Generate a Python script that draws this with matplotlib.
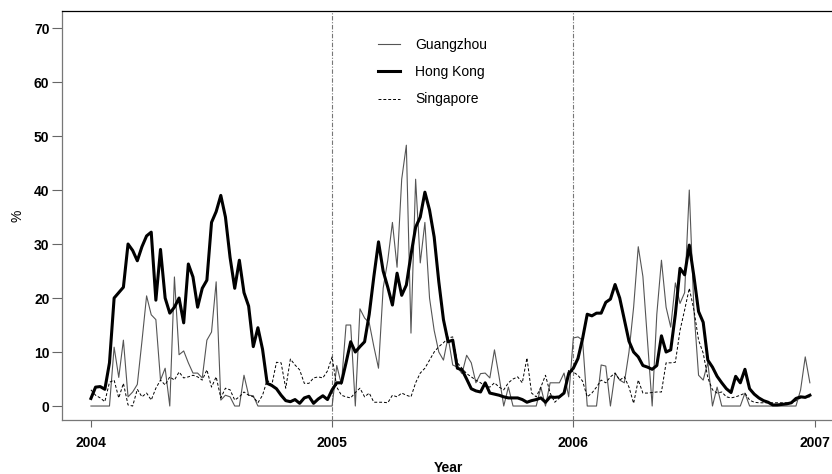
import numpy as np
import matplotlib
matplotlib.use("Agg")
import matplotlib.pyplot as plt

plt.rcParams['font.family'] = ['Liberation Sans', 'DejaVu Sans']

# -----------------------------
# Weekly values (%), 2004 week 0 .. 2006 week 51
# -----------------------------
guangzhou = [
    # 2004
    0, 0, 0, 0, 0, 10.9, 5.3, 12.2, 1.7, 2.6, 4.0, 12.0, 20.4, 16.9, 16.0, 4.8,
    7.0, 0, 23.9, 9.5, 10.2, 8.0, 6.1, 6.1, 5.2, 12.2, 13.7, 23.0, 1.1, 2.0,
    1.7, 0, 0, 5.7, 2.0, 1.9, 0, 0, 0, 0, 0, 0, 0, 0, 0, 0, 0, 0, 0, 0, 0, 0,
    # 2005
    0, 7.5, 4.0, 15.0, 15.0, 0, 18.0, 16.3, 15.4, 11.0, 7.0, 21.8, 27.0, 34.0,
    25.7, 42.0, 48.3, 13.5, 42.0, 26.5, 34.0, 20.0, 14.0, 10.0, 8.5, 12.8, 7.6,
    7.2, 6.0, 9.4, 8.0, 4.3, 6.0, 6.1, 5.2, 10.4, 5.4, 0, 3.5, 0, 0, 0, 0, 0,
    0, 3.5, 0, 4.3, 4.3, 4.3, 6.1, 1.7,
    # 2006
    12.6, 12.8, 12.2, 0, 0, 0, 7.6, 7.4, 0, 6.1, 4.8, 4.3, 10.0, 18.3, 29.5,
    24.0, 12.0, 0, 17.0, 27.0, 18.3, 14.6, 22.8, 19.0, 21.0, 40.0, 17.8, 5.7,
    4.8, 8.1, 0, 3.5, 0, 0, 0, 0, 0, 2.4, 0, 0, 0, 0, 0, 0, 0, 0, 0, 0, 0,
    3.0, 9.1, 4.3,
]

hong_kong = [
    # 2004
    1.4, 3.5, 3.6, 3.1, 8.0, 20.0, 21.0, 22.0, 30.0, 28.8, 26.9, 29.5, 31.5,
    32.2, 19.6, 29.0, 20.0, 17.2, 18.3, 20.0, 15.4, 26.3, 23.9, 18.3, 21.8,
    23.3, 34.0, 36.0, 39.0, 35.0, 27.5, 21.8, 27.0, 21.0, 18.5, 11.0, 14.5,
    10.5, 4.2, 3.8, 3.2, 2.0, 1.0, 0.8, 1.2, 0.5, 1.5, 1.8, 0.5, 1.3, 1.9, 1.2,
    # 2005
    3.0, 4.3, 4.3, 8.0, 11.9, 10.0, 11.0, 11.9, 17.0, 24.0, 30.4, 25.0, 22.0,
    18.7, 24.6, 20.5, 22.4, 28.0, 33.1, 35.0, 39.6, 36.3, 31.3, 23.0, 16.0,
    11.9, 12.2, 7.0, 6.7, 5.0, 3.2, 2.8, 2.6, 4.3, 2.4, 2.2, 2.0, 1.7, 1.5,
    1.5, 1.5, 1.2, 0.7, 1.0, 1.2, 1.5, 0.7, 1.7, 1.6, 1.7, 2.4, 6.0,
    # 2006
    7.0, 8.8, 12.5, 17.0, 16.7, 17.2, 17.2, 19.2, 19.8, 22.5, 20.0, 16.0, 12.0,
    10.0, 9.1, 7.5, 7.2, 6.8, 7.5, 13.0, 10.0, 10.4, 17.0, 25.5, 24.3, 29.8,
    24.0, 17.5, 15.5, 8.5, 7.2, 5.5, 4.3, 3.2, 2.5, 5.5, 4.3, 6.8, 3.2, 2.2,
    1.5, 1.0, 0.7, 0.2, 0.2, 0.3, 0.4, 0.6, 1.4, 1.7, 1.6, 2.0,
]

singapore = [
    # 2004
    3.0, 2.0, 1.5, 0.8, 4.4, 4.8, 1.5, 4.2, 0.2, 0, 3.1, 1.7, 2.4, 1.1, 3.3,
    4.8, 3.9, 5.4, 4.8, 6.3, 5.2, 5.4, 5.7, 5.4, 4.8, 6.7, 3.5, 5.4, 1.5, 3.3,
    3.0, 1.1, 1.7, 2.6, 2.0, 1.7, 0.6, 2.0, 4.8, 3.9, 8.1, 8.0, 3.3, 8.7, 7.6,
    6.7, 4.2, 4.2, 5.2, 5.4, 5.2, 6.5,
    # 2005
    9.1, 3.5, 2.0, 1.7, 1.5, 2.5, 3.3, 1.7, 2.4, 0.7, 0.7, 0.7, 0.6, 2.0, 1.7,
    2.4, 2.0, 1.7, 4.3, 6.1, 7.0, 8.5, 10.0, 11.0, 11.7, 12.6, 12.8, 8.0, 7.0,
    6.0, 5.4, 4.8, 4.3, 3.7, 3.5, 4.3, 3.5, 3.0, 4.3, 5.0, 5.4, 4.3, 8.9, 2.4,
    1.7, 3.5, 5.7, 2.4, 0.7, 1.5, 2.4, 6.7,
    # 2006
    6.3, 5.7, 4.6, 1.7, 2.4, 3.5, 4.8, 4.3, 5.4, 6.1, 4.8, 5.4, 3.5, 0.5, 4.8,
    2.4, 2.4, 2.5, 2.6, 2.6, 8.0, 8.0, 8.1, 14.0, 17.8, 21.8, 17.8, 12.2, 9.8,
    5.2, 3.0, 2.4, 2.6, 1.7, 1.5, 1.7, 2.0, 2.4, 1.1, 0.7, 0.6, 0.6, 0.6, 0.6,
    0.6, 0.6, 0.6, 0.6, 1.0, 1.5, 1.7, 1.7,
]

year_ticks = [2004, 2005, 2006, 2007]
pct_ticks = [0, 10, 20, 30, 40, 50, 60, 70]
year_lines = [2005, 2006]

# -----------------------------
# Plot
# -----------------------------
t = 2004 + np.arange(len(hong_kong)) / 52.0

fig = plt.figure(figsize=(8.32, 4.74), dpi=100)
ax = fig.add_axes([0.0745, 0.1139, 0.93, 0.8629])

for yr in year_lines:
    ax.axvline(yr, color='#777777', lw=0.8, ls=(0, (4, 1.5, 1, 1.5)), zorder=1)

ax.plot(t, guangzhou, color='#555555', lw=0.8, label='Guangzhou', zorder=2)
ax.plot(t, hong_kong, color='black', lw=2.2, label='Hong Kong', zorder=3)
ax.plot(t, singapore, color='black', lw=0.7, ls=(0, (3, 2)), label='Singapore', zorder=2)

ax.set_xlim(2003.880, 2007.058 + 0.03)
ax.set_ylim(-2.59, 73.15)
ax.set_xticks(year_ticks)
ax.set_yticks(pct_ticks)
ax.set_xticklabels([str(y) for y in year_ticks], fontweight='bold', fontsize=10)
ax.set_yticklabels([str(v) for v in pct_ticks], fontweight='bold', fontsize=10)
ax.tick_params(axis='x', direction='out', length=5, width=0.8, color='#666666', pad=6.5)
ax.tick_params(axis='y', direction='out', length=7.5, width=0.8, color='#666666', pad=1.5)

ax.spines['right'].set_visible(False)
ax.spines['left'].set_color('#777777')
ax.spines['bottom'].set_color('#777777')
ax.spines['top'].set_color('black')
for s in ax.spines.values():
    s.set_linewidth(0.9)

ax.set_xlabel('Year', fontweight='bold', fontsize=10, labelpad=8)
ax.set_ylabel('%', fontsize=10, labelpad=7)

leg = ax.legend(loc='upper left', bbox_to_anchor=(0.4084, 0.934), frameon=False,
                fontsize=10, handlelength=1.6, labelspacing=0.95, handletextpad=1.08,
                borderpad=0, borderaxespad=0)

fig.savefig('out.png', dpi=100)
